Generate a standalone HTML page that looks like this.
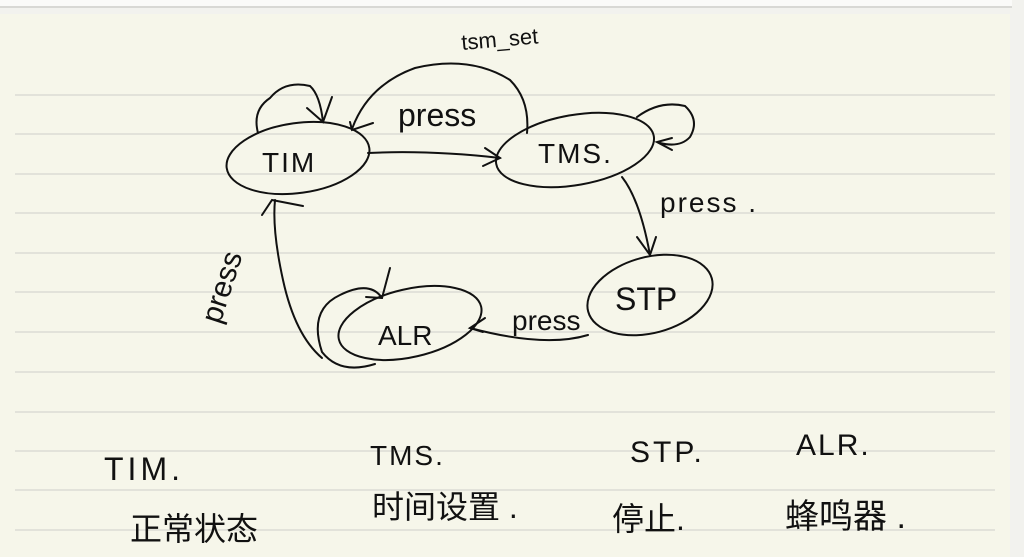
<!DOCTYPE html>
<html><head><meta charset="utf-8"><style>
html,body{margin:0;padding:0;width:1024px;height:557px;overflow:hidden;background:#efefeb}
svg{display:block}
text{font-family:"Liberation Sans","Noto Sans CJK SC",sans-serif;fill:#111}
</style></head><body>
<svg width="1024" height="557" viewBox="0 0 1024 557">
<rect x="0" y="0" width="1024" height="557" fill="#f2f2ee"/>
<rect x="0" y="0" width="1012" height="6" fill="#fafaf8"/>
<rect x="0" y="6" width="1012" height="2" fill="#d8d8d4"/>
<rect x="0" y="14" width="1010" height="543" fill="#f6f6ea"/>
<g stroke="#dcdcd4" stroke-width="1.5">
<line x1="15" y1="95" x2="995" y2="95"/><line x1="15" y1="134" x2="995" y2="134"/>
<line x1="15" y1="174" x2="995" y2="174"/><line x1="15" y1="213" x2="995" y2="213"/>
<line x1="15" y1="253" x2="995" y2="253"/><line x1="15" y1="292" x2="995" y2="292"/>
<line x1="15" y1="332" x2="995" y2="332"/><line x1="15" y1="372" x2="995" y2="372"/>
<line x1="15" y1="412" x2="995" y2="412"/><line x1="15" y1="451" x2="995" y2="451"/>
<line x1="15" y1="490" x2="995" y2="490"/><line x1="15" y1="530" x2="995" y2="530"/>
</g>
<g fill="none" stroke="#111" stroke-width="2" stroke-linecap="round">
<ellipse cx="298" cy="158" rx="72" ry="35" transform="rotate(-8 298 158)"/>
<ellipse cx="575" cy="150" rx="80" ry="35" transform="rotate(-10 575 150)"/>
<ellipse cx="650" cy="295" rx="64" ry="38" transform="rotate(-15 650 295)"/>
<ellipse cx="410" cy="323" rx="73" ry="34" transform="rotate(-13 410 323)"/>
<path d="M352,129 Q 368,85 415,68 Q 470,55 510,80 Q 530,100 527,133"/>
<path d="M350,122 L352,130 L373,123"/>
<path d="M258,133 Q 252,110 270,98 Q 285,80 310,86 Q 320,95 323,122"/>
<path d="M307,108 L323,122 L332,97"/>
<path d="M368,153 Q 430,150 500,158"/>
<path d="M485,148 L500,158 L483,166"/>
<path d="M637,117 Q 660,100 685,106 Q 700,120 690,137 Q 680,148 660,143"/>
<path d="M672,138 L657,142 L672,150"/>
<path d="M622,177 Q 640,200 650,255"/>
<path d="M637,237 L650,255 L656,237"/>
<path d="M588,335 Q 545,348 470,328"/>
<path d="M485,318 L470,328 L483,332"/>
<path d="M375,364 Q 340,375 322,352 Q 308,310 340,295 Q 370,280 382,298"/>
<path d="M366,297 L382,298 L390,268"/>
<path d="M322,358 Q 295,335 283,280 Q 272,230 275,200"/>
<path d="M262,215 L272,200 L303,206"/>
</g>
<text x="462" y="50" font-size="22" transform="rotate(-5 462 50)">tsm_set</text>
<text x="398" y="126" font-size="32">press</text>
<text x="660" y="212" font-size="28" letter-spacing="2">press .</text>
<text x="512" y="330" font-size="28">press</text>
<text x="220" y="325" font-size="30" transform="rotate(-72 220 325)">press</text>
<text x="262" y="172" font-size="28" letter-spacing="2">TIM</text>
<text x="538" y="163" font-size="28" letter-spacing="2">TMS.</text>
<text x="615" y="310" font-size="32">STP</text>
<text x="378" y="345" font-size="28">ALR</text>
<text x="104" y="480" font-size="32" letter-spacing="4">TIM.</text>
<text x="370" y="465" font-size="28" letter-spacing="2">TMS.</text>
<text x="630" y="462" font-size="30" letter-spacing="3">STP.</text>
<text x="796" y="455" font-size="30" letter-spacing="2">ALR.</text>
<text x="130" y="540" font-size="32">正常状态</text>
<text x="372" y="518" font-size="32">时间设置 .</text>
<text x="612" y="530" font-size="32">停止.</text>
<text x="785" y="528" font-size="34">蜂鸣器 .</text>
</svg>
</body></html>
